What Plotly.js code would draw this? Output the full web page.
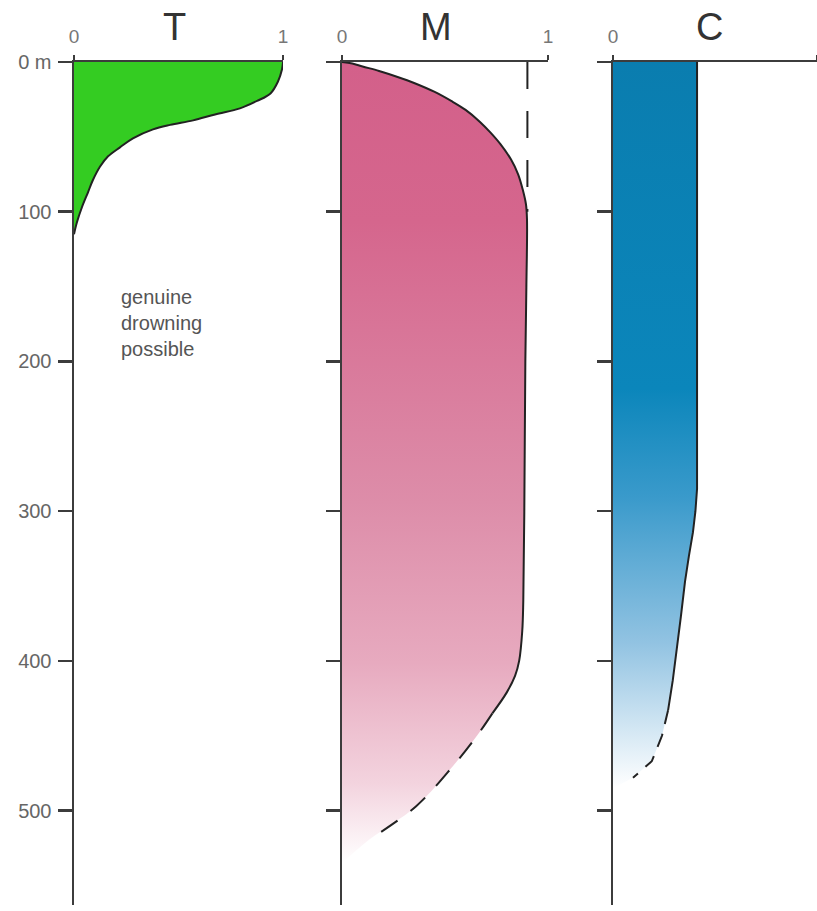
<!DOCTYPE html>
<html>
<head>
<meta charset="utf-8">
<script src="https://cdn.plot.ly/plotly-3.0.1.min.js"></script>
<style>html,body{margin:0;padding:0;background:#fff;}#chart{width:817px;height:911px;}</style>
</head>
<body>
<div id="chart"></div>
<script>
// ---- data ----
const panelTitles = ['T', 'M', 'C'];
const depthTickVals = [0, 100, 200, 300, 400, 500];
const depthTickText = ['0 m', '100', '200', '300', '400', '500'];
const valueTickVals = [0, 1];
const valueTickText = ['0', '1'];

// T profile
const tDepth = [0, 5, 13, 21, 26, 31, 35, 39, 42, 45, 51, 57, 63, 70, 79, 87, 97, 107, 115];
const tValue = [1.0, 0.995, 0.976, 0.94, 0.876, 0.794, 0.675, 0.57, 0.46, 0.378, 0.282, 0.22, 0.163, 0.124, 0.09, 0.067, 0.038, 0.014, 0];

// M profile (solid part up to index mSolidEnd, dashed afterwards)
const mDepth = [0, 1, 3, 6, 10, 14, 20, 26, 32, 40, 47, 55, 65, 75, 85, 95, 105, 150, 200, 300, 360, 380, 400, 410, 421, 435, 450, 470, 497, 519];
const mValue = [0, 0.05, 0.10, 0.18, 0.27, 0.35, 0.45, 0.53, 0.60, 0.67, 0.72, 0.77, 0.82, 0.855, 0.877, 0.893, 0.898, 0.895, 0.89, 0.885, 0.88, 0.875, 0.86, 0.84, 0.80, 0.73, 0.655, 0.54, 0.36, 0.136];
const mSolidEnd = 25;
const mFillBottom = 535;
const mRefValue = [0.9, 0.9];
const mRefDepth = [0, 100];

// C profile
const cDepth = [0, 285, 300, 314, 330, 347, 370, 392, 413, 433, 450, 467, 478];
const cValue = [0.412, 0.412, 0.404, 0.392, 0.372, 0.353, 0.333, 0.314, 0.293, 0.27, 0.24, 0.19, 0.098];
const cSolidEnd = 9;
const cFillBottom = 485;

const noteLines = ['genuine', 'drowning', 'possible'];

// ---- styling ----
const W = 817, H = 911;
const FONT = 'Liberation Sans, Arial, sans-serif';
const lineCol = '#222222';
const axisCol = '#3c3c3c';
const yDom = [1 - 905 / H, 1 - 62 / H];
const xDoms = [[74 / W, 283 / W], [342 / W, 548 / W], [613 / W, 1.0]];

const traces = [];
// T: filled to the depth axis
traces.push({
  x: tValue, y: tDepth, xaxis: 'x', yaxis: 'y', mode: 'lines', fill: 'tozerox', fillcolor: '#34cc22',
  line: {color: lineCol, width: 2, shape: 'spline', smoothing: 1}, hoverinfo: 'skip'
});
// M gradient fill
traces.push({
  x: mValue.concat([0]), y: mDepth.concat([mFillBottom]),
  xaxis: 'x2', yaxis: 'y2', mode: 'lines', fill: 'tozerox', fillcolor: '#d5628a',
  fillgradient: {type: 'vertical', start: 0, stop: mFillBottom,
    colorscale: [[0, '#d3608a'], [0.2, '#d5668d'], [0.55, '#dd8da9'], [0.75, '#e7aabf'], [0.9, '#f3d3de'], [1, '#ffffff']]},
  line: {width: 0, shape: 'spline', smoothing: 1}, hoverinfo: 'skip'
});
traces.push({
  x: mValue.slice(0, mSolidEnd + 1), y: mDepth.slice(0, mSolidEnd + 1), xaxis: 'x2', yaxis: 'y2', mode: 'lines',
  line: {color: lineCol, width: 2, shape: 'spline', smoothing: 1}, hoverinfo: 'skip'
});
traces.push({
  x: mValue.slice(mSolidEnd), y: mDepth.slice(mSolidEnd), xaxis: 'x2', yaxis: 'y2', mode: 'lines',
  line: {color: lineCol, width: 2, dash: '20px,16px', shape: 'spline', smoothing: 1}, hoverinfo: 'skip'
});
traces.push({
  x: mRefValue, y: mRefDepth, xaxis: 'x2', yaxis: 'y2', mode: 'lines',
  line: {color: lineCol, width: 2, dash: '27px,22px'}, hoverinfo: 'skip'
});
// C gradient fill
traces.push({
  x: cValue.concat([0]), y: cDepth.concat([cFillBottom]),
  xaxis: 'x3', yaxis: 'y3', mode: 'lines', fill: 'tozerox', fillcolor: '#0b7fb1',
  fillgradient: {type: 'vertical', start: 0, stop: cFillBottom,
    colorscale: [[0, '#0a7daf'], [0.45, '#0b86bb'], [0.6, '#3a9acb'], [0.8, '#92c3e2'], [1, '#ffffff']]},
  line: {width: 0}, hoverinfo: 'skip'
});
traces.push({
  x: cValue.slice(0, cSolidEnd + 1), y: cDepth.slice(0, cSolidEnd + 1), xaxis: 'x3', yaxis: 'y3', mode: 'lines',
  line: {color: lineCol, width: 2}, hoverinfo: 'skip'
});
traces.push({
  x: cValue.slice(cSolidEnd), y: cDepth.slice(cSolidEnd), xaxis: 'x3', yaxis: 'y3', mode: 'lines',
  line: {color: lineCol, width: 2, dash: '14px,10px'}, hoverinfo: 'skip'
});

function xAxis(i) {
  return {
    domain: xDoms[i], range: [0, 1], side: 'top', anchor: i === 0 ? 'y' : 'y' + (i + 1),
    showline: true, linecolor: axisCol, linewidth: 2.5, ticks: 'outside', ticklen: 5, tickwidth: 2,
    tickcolor: axisCol, tickvals: valueTickVals, ticktext: valueTickText, ticklabelstandoff: 4,
    tickfont: {family: FONT, size: 19, color: '#777777'},
    showgrid: false, zeroline: false, fixedrange: true
  };
}
function yAxis(i) {
  return {
    domain: yDom, range: [563, 0], anchor: i === 0 ? 'x' : 'x' + (i + 1),
    showline: true, linecolor: axisCol, linewidth: 2.5, ticks: 'outside', ticklen: 14, tickwidth: 2.5,
    tickcolor: axisCol, tickvals: depthTickVals, ticktext: depthTickText, showticklabels: i === 0,
    ticklabelstandoff: 2,
    tickfont: {family: FONT, size: 20, color: '#666666'},
    showgrid: false, zeroline: false, fixedrange: true
  };
}

const titleX = [174, 436, 709];
const annotations = panelTitles.map((t, i) => ({
  text: t, xref: 'paper', yref: 'paper', x: titleX[i] / W, y: 1 - 27 / H,
  xanchor: 'center', yanchor: 'middle', showarrow: false,
  font: {family: FONT, size: 38, color: '#333333'}
}));
annotations.push({
  text: noteLines.join('<br>'), xref: 'paper', yref: 'paper', x: 119 / W, y: 1 - 323 / H,
  xanchor: 'left', yanchor: 'middle', align: 'left', showarrow: false,
  font: {family: FONT, size: 20, color: '#555555'}
});

const layout = {
  width: W, height: H, margin: {l: 0, r: 0, t: 0, b: 0},
  paper_bgcolor: '#ffffff', plot_bgcolor: 'rgba(0,0,0,0)', showlegend: false,
  xaxis: xAxis(0), xaxis2: xAxis(1), xaxis3: xAxis(2),
  yaxis: yAxis(0), yaxis2: yAxis(1), yaxis3: yAxis(2),
  annotations: annotations
};

Plotly.newPlot('chart', traces, layout, {displayModeBar: false, staticPlot: true});
</script>
</body>
</html>
